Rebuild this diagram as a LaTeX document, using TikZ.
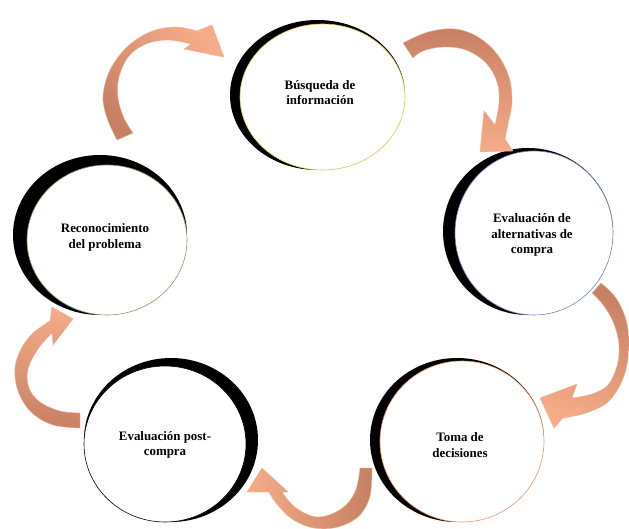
\documentclass[tikz,border=0pt]{standalone}
\usepackage{fontspec}
\setmainfont{Liberation Serif}
\usetikzlibrary{shapes.geometric}
\definecolor{arlight}{RGB}{246,172,136}
\definecolor{ardark}{RGB}{199,128,100}
\definecolor{aredge}{RGB}{240,180,150}
\definecolor{ringY}{RGB}{225,200,70}
\definecolor{ringB}{RGB}{105,135,185}
\definecolor{ringG}{RGB}{125,160,95}
\definecolor{ringO}{RGB}{232,155,110}
\begin{document}
\begin{tikzpicture}[x=1pt,y=-1pt,
  shadowell/.style={ellipse, fill=black, draw=none, inner sep=0pt},
  ringell/.style={ellipse, fill=white, inner sep=0pt, line width=0.6pt},
  lbl/.style={font=\bfseries\fontsize{12.9}{15.6}\selectfont, align=center, inner sep=0pt},
  blockarrow/.style={draw=aredge, line width=0.4pt}]
\useasboundingbox (0,0) rectangle (629,529);

% circles
\node[shadowell, minimum width=175pt, minimum height=150pt] (busqS) at (317.5,95) {};
\node[ringell, draw=ringY, minimum width=165pt, minimum height=146pt] (busq) at (322.5,97) {};
\node[lbl] (busqT) at (320,92.5) {Búsqueda de\\información};

\node[shadowell, minimum width=170pt, minimum height=167pt] (altS) at (528,231.5) {};
\node[ringell, draw=ringB, minimum width=158pt, minimum height=164pt] (alt) at (534,233) {};
\node[lbl] (altT) at (532,235) {Evaluación de\\alternativas de\\compra};

\node[shadowell, minimum width=174pt, minimum height=160pt] (recS) at (100,235) {};
\node[ringell, draw=ringG, minimum width=160pt, minimum height=150pt] (rec) at (107,240) {};
\node[lbl] (recT) at (105,237.5) {Reconocimiento\\del problema};

\node[shadowell, minimum width=174pt, minimum height=164pt] (postS) at (171,440) {};
\node[ringell, draw=black, minimum width=162pt, minimum height=156pt] (post) at (165,444) {};
\node[lbl] (postT) at (165,445) {Evaluación post-\\compra};

\node[shadowell, minimum width=174pt, minimum height=164pt] (tomaS) at (457,440) {};
\node[ringell, draw=ringO, minimum width=164pt, minimum height=161pt] (toma) at (462,441.5) {};
\node[lbl] (tomaT) at (460,445) {Toma de\\decisiones};

% curved block arrows
% A: Reconocimiento -> Busqueda
\path[blockarrow, top color=arlight, bottom color=ardark, shading angle=-45]
  plot[smooth, tension=0.6] coordinates {(117,140) (107,118) (103,96) (110,70) (127,47) (150,32) (175,27) (197,31)}
  -- (212,25) -- (224,57) -- (184,49)
  -- plot[smooth, tension=0.6] coordinates {(191,44) (168,40) (146,44) (129,56) (119,77) (118,98) (124,118) (133,133)}
  -- cycle;

% B: Busqueda -> Alternativas
\path[blockarrow, top color=ardark, bottom color=arlight, shading angle=0]
  plot[smooth, tension=0.6] coordinates {(403,43) (428,32) (455,29) (478,37) (497,54) (509,77) (512,102) (508,124) (505,139)}
  -- (513,151) -- (480,152) -- (484,111)
  -- plot[smooth, tension=0.6] coordinates {(495,125) (499,102) (497,82) (486,63) (466,50) (443,47) (423,51) (413,58)}
  -- cycle;

% C: Alternativas -> Toma
\path[blockarrow, top color=ardark, bottom color=arlight, shading angle=-20]
  plot[smooth, tension=0.6] coordinates {(601,283) (616,298) (626,320) (629,346) (624,376) (609,401) (586,413) (563,418)}
  -- (554,428) -- (540,398) -- (577,384)
  -- plot[smooth, tension=0.6] coordinates {(572,398) (592,394) (608,385) (617,366) (619,345) (614,324) (604,306) (592,293)}
  -- cycle;

% D: Toma -> Post-compra
\path[blockarrow, top color=arlight, bottom color=ardark, shading angle=90]
  plot[smooth, tension=0.6] coordinates {(372,468) (370,496) (359,516) (338,527) (314,528) (292,519) (276,503) (269,492)}
  -- (247,492) -- (262,468) -- (288,492)
  -- plot[smooth, tension=0.6] coordinates {(282,492) (296,508) (318,517) (341,509) (355,492) (360,468)}
  -- cycle;

% E: Post-compra -> Reconocimiento
\path[blockarrow, top color=arlight, bottom color=ardark, shading angle=0]
  plot[smooth, tension=0.6] coordinates {(80,428) (53,425) (31,412) (18,391) (15,368) (21,349) (33,333) (50,321)}
  -- (52,307) -- (73,319) -- (53,345)
  -- plot[smooth, tension=0.6] coordinates {(52,333) (38,349) (28,369) (29,388) (40,402) (60,411) (80,413)}
  -- cycle;
\end{tikzpicture}
\end{document}
